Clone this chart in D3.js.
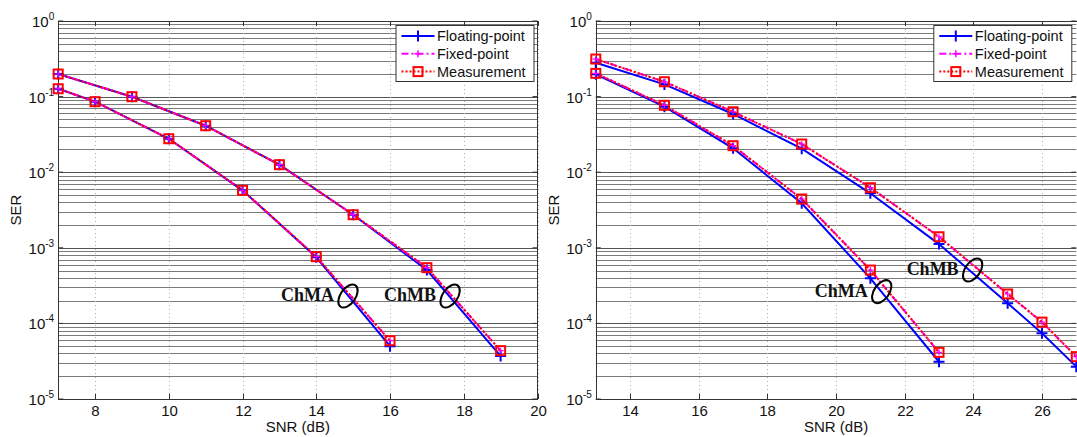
<!DOCTYPE html>
<html>
<head>
<meta charset="utf-8">
<script src="https://cdn.jsdelivr.net/npm/d3@7"></script>
<style>
  body { margin: 0; background: #fff; }
  text { font-family: "Liberation Sans", Arial, sans-serif; }
  text.note { font-family: "Liberation Serif", "Times New Roman", serif; font-weight: bold; }
</style>
</head>
<body>
<script>
const width = 1077;
const height = 437;

// left figure (SNR 7..20)
const leftSnrA = [7, 8, 10, 12, 14, 16];
const leftFloatA = [0.127, 0.0857, 0.0277, 0.00576, 7.5e-4, 5.0e-5];
const leftFixedA = [0.127, 0.0857, 0.0277, 0.00576, 7.63e-4, 5.9e-5];
const leftMeasA = [0.127, 0.0857, 0.0277, 0.00576, 7.63e-4, 5.9e-5];

const leftSnrB = [7, 9, 11, 13, 15, 17, 19];
const leftFloatB = [0.199, 0.0997, 0.0412, 0.01257, 0.00274, 5.08e-4, 3.7e-5];
const leftFixedB = [0.199, 0.0997, 0.0412, 0.01257, 0.00274, 5.46e-4, 4.36e-5];
const leftMeasB = [0.199, 0.0997, 0.0412, 0.01257, 0.00274, 5.46e-4, 4.36e-5];

// right figure (SNR 13..27)
const rightSnrA = [13, 15, 17, 19, 21, 23];
const rightFloatA = [0.197, 0.0736, 0.0207, 0.00388, 3.95e-4, 3.11e-5];
const rightFixedA = [0.203, 0.0767, 0.0224, 0.00442, 5.08e-4, 4.14e-5];
const rightMeasA = [0.203, 0.0767, 0.0224, 0.00442, 5.08e-4, 4.14e-5];

const rightSnrB = [13, 15, 17, 19, 21, 23, 25, 26, 27];
const rightFloatB = [0.281, 0.145, 0.0589, 0.0205, 0.00526, 0.00112, 1.85e-4, 7.4e-5, 2.68e-5];
const rightFixedB = [0.314, 0.157, 0.063, 0.0236, 0.00624, 0.0014, 2.45e-4, 1.04e-4, 3.63e-5];
const rightMeasB = [0.314, 0.157, 0.063, 0.0236, 0.00624, 0.0014, 2.45e-4, 1.04e-4, 3.63e-5];

const leftTicks = [8, 10, 12, 14, 16, 18, 20];
const rightTicks = [14, 16, 18, 20, 22, 24, 26];
const yDecades = [1e-5, 1e-4, 1e-3, 1e-2, 1e-1, 1];
const yExponents = ["-5", "-4", "-3", "-2", "-1", "0"];
const legendLabels = ["Floating-point", "Fixed-point", "Measurement"];

// annotation ellipse centres in data units [snr, ser]
const leftNotes = [["ChMA", 14.86, 2.3e-4], ["ChMB", 17.63, 2.3e-4]];
const rightNotes = [["ChMA", 21.33, 2.63e-4], ["ChMB", 23.98, 5.08e-4]];

const panels = [
  {
    x0: 58.2, x1: 537.5, domain: [7, 20], ticks: leftTicks, serX: 21,
    legendX: 395.5,
    curves: [
      [leftSnrA, leftFloatA, leftFixedA, leftMeasA],
      [leftSnrB, leftFloatB, leftFixedB, leftMeasB],
    ],
    notes: leftNotes,
  },
  {
    x0: 595.8, x1: 1076.3, domain: [13, 27], ticks: rightTicks, serX: 559,
    legendX: 933.3,
    curves: [
      [rightSnrA, rightFloatA, rightFixedA, rightMeasA],
      [rightSnrB, rightFloatB, rightFixedB, rightMeasB],
    ],
    notes: rightNotes,
  },
];

const plotTop = 21;
const plotBottom = 399;

const styles = [
  { color: "#0000ff", dash: null, width: 2 },
  { color: "#ff00ff", dash: "7,3,2,3", width: 2 },
  { color: "#ff0000", dash: "2,2", width: 2 },
];

const svg = d3
  .select("body")
  .append("svg")
  .attr("width", width)
  .attr("height", height)
  .attr("viewBox", [0, 0, width, height]);

function plusMarker(g, x, y, size, color, w) {
  g.append("path")
    .attr("d", `M${x - size},${y}H${x + size}M${x},${y - size}V${y + size}`)
    .attr("stroke", color)
    .attr("stroke-width", w)
    .attr("fill", "none");
}

function squareMarker(g, x, y) {
  g.append("rect")
    .attr("x", x - 4.5)
    .attr("y", y - 4.5)
    .attr("width", 9)
    .attr("height", 9)
    .attr("fill", "none")
    .attr("stroke", "#ff0000")
    .attr("stroke-width", 2);
}

panels.forEach((p) => {
  const x = d3.scaleLinear().domain(p.domain).range([p.x0, p.x1]);
  const y = d3.scaleLog().domain([1e-5, 1]).range([plotBottom, plotTop]);
  const g = svg.append("g");

  // horizontal grid, every minor value of each decade
  const gridVals = [];
  for (let k = -5; k < 0; k++) {
    for (let m = 1; m < 10; m++) gridVals.push(m * Math.pow(10, k));
  }
  gridVals.push(1);
  g.append("g")
    .selectAll("line")
    .data(gridVals)
    .join("line")
    .attr("x1", p.x0)
    .attr("x2", p.x1)
    .attr("y1", (d) => Math.round(y(d)) + 0.5)
    .attr("y2", (d) => Math.round(y(d)) + 0.5)
    .attr("stroke", (d, i) => (i % 9 === 0 ? "#555" : "#7a7a7a"))
    .attr("stroke-width", 1);

  // vertical dotted grid
  g.append("g")
    .selectAll("line")
    .data(p.ticks)
    .join("line")
    .attr("x1", (d) => Math.round(x(d)) + 0.5)
    .attr("x2", (d) => Math.round(x(d)) + 0.5)
    .attr("y1", plotTop)
    .attr("y2", plotBottom)
    .attr("stroke", "#b0b0b0")
    .attr("stroke-dasharray", "1,3");

  // frame
  g.append("rect")
    .attr("x", Math.round(p.x0) + 0.5)
    .attr("y", plotTop + 0.5)
    .attr("width", Math.round(p.x1 - p.x0))
    .attr("height", plotBottom - plotTop)
    .attr("fill", "none")
    .attr("stroke", "#333")
    .attr("stroke-width", 1);

  // x ticks top and bottom
  p.ticks.forEach((t) => {
    const xx = Math.round(x(t)) + 0.5;
    g.append("line").attr("x1", xx).attr("x2", xx)
      .attr("y1", plotBottom).attr("y2", plotBottom - 5).attr("stroke", "#333");
    g.append("line").attr("x1", xx).attr("x2", xx)
      .attr("y1", plotTop).attr("y2", plotTop + 5).attr("stroke", "#333");
    g.append("text")
      .attr("x", xx)
      .attr("y", 416)
      .attr("text-anchor", "middle")
      .attr("font-size", 15)
      .attr("fill", "#111")
      .text(t);
  });

  // y tick labels 10^k
  yDecades.forEach((v, i) => {
    const yy = y(v);
    g.append("line").attr("x1", p.x0).attr("x2", p.x0 + 5)
      .attr("y1", yy).attr("y2", yy).attr("stroke", "#333");
    g.append("line").attr("x1", p.x1).attr("x2", p.x1 - 5)
      .attr("y1", yy).attr("y2", yy).attr("stroke", "#333");
    const t = g.append("text")
      .attr("x", p.x0 - 4)
      .attr("y", yy + 6)
      .attr("text-anchor", "end")
      .attr("font-size", 15)
      .attr("fill", "#111");
    t.append("tspan").text("10");
    t.append("tspan").attr("dy", -7).attr("font-size", 10).text(yExponents[i]);
  });

  // axis titles
  g.append("text")
    .attr("x", (p.x0 + p.x1) / 2)
    .attr("y", 432)
    .attr("text-anchor", "middle")
    .attr("font-size", 15)
    .attr("fill", "#111")
    .text("SNR (dB)");
  g.append("text")
    .attr("transform", `translate(${p.serX},${(plotTop + plotBottom) / 2}) rotate(-90)`)
    .attr("text-anchor", "middle")
    .attr("font-size", 15)
    .attr("fill", "#111")
    .text("SER");

  // curves: float, fixed, measurement
  const line = d3.line().x((d) => x(d[0])).y((d) => y(d[1]));
  const curveG = g.append("g");
  [0, 1, 2].forEach((s) => {
    p.curves.forEach((c) => {
      const pts = c[0].map((snr, i) => [snr, c[s + 1][i]]);
      curveG.append("path")
        .datum(pts)
        .attr("d", line)
        .attr("fill", "none")
        .attr("stroke", styles[s].color)
        .attr("stroke-width", styles[s].width)
        .attr("stroke-dasharray", styles[s].dash);
    });
  });
  p.curves.forEach((c) => {
    c[0].forEach((snr, i) => plusMarker(curveG, x(snr), y(c[1][i]), 5.5, "#0000ff", 2));
  });
  p.curves.forEach((c) => {
    c[0].forEach((snr, i) => squareMarker(curveG, x(snr), y(c[3][i])));
  });
  p.curves.forEach((c) => {
    c[0].forEach((snr, i) => plusMarker(curveG, x(snr), y(c[2][i]), 3, "#ff00ff", 1.2));
  });

  // annotations
  p.notes.forEach(([label, snr, ser]) => {
    const cx = x(snr);
    const cy = y(ser);
    g.append("ellipse")
      .attr("cx", cx)
      .attr("cy", cy)
      .attr("rx", 13)
      .attr("ry", 7.5)
      .attr("transform", `rotate(-55,${cx},${cy})`)
      .attr("fill", "none")
      .attr("stroke", "#000")
      .attr("stroke-width", 2);
    g.append("text")
      .attr("class", "note")
      .attr("x", cx - 14)
      .attr("y", cy + 5)
      .attr("text-anchor", "end")
      .attr("font-size", 18)
      .attr("fill", "#111")
      .text(label);
  });

  // legend
  const lg = g.append("g").attr("transform", `translate(${p.legendX},25)`);
  lg.append("rect")
    .attr("x", 0.5)
    .attr("y", 0.5)
    .attr("width", 138)
    .attr("height", 56)
    .attr("fill", "#fff")
    .attr("stroke", "#333");
  legendLabels.forEach((lab, i) => {
    const ly = 11 + i * 17.8;
    lg.append("line")
      .attr("x1", 6).attr("x2", 39)
      .attr("y1", ly).attr("y2", ly)
      .attr("stroke", styles[i].color)
      .attr("stroke-width", 2)
      .attr("stroke-dasharray", styles[i].dash);
    if (i === 0) plusMarker(lg, 22.5, ly, 5.5, "#0000ff", 2);
    if (i === 1) plusMarker(lg, 22.5, ly, 3.5, "#ff00ff", 1.5);
    if (i === 2) squareMarker(lg, 22.5, ly);
    lg.append("text")
      .attr("x", 41.5)
      .attr("y", ly + 5)
      .attr("font-size", 14.5)
      .attr("fill", "#111")
      .text(lab);
  });
});
</script>
</body>
</html>
